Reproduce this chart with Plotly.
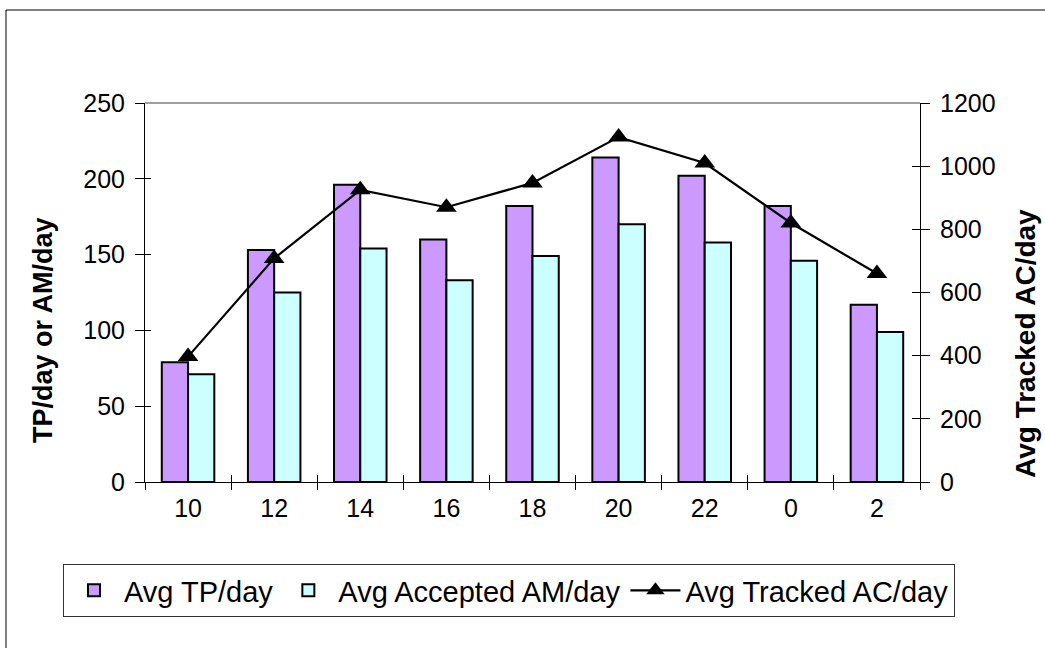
import numpy as np
import plotly.graph_objects as go

# Hour of day (categories) and daily averages
hours = ["10", "12", "14", "16", "18", "20", "22", "0", "2"]
avg_tp = [79, 153, 196, 160, 182, 214, 202, 182, 117]
avg_accepted_am = [71, 125, 154, 133, 149, 170, 158, 146, 99]
avg_tracked_ac = [397, 708, 925, 870, 947, 1092, 1010, 820, 660]

left_ticks = [0, 50, 100, 150, 200, 250]
right_ticks = [0, 200, 400, 600, 800, 1000, 1200]

W, H = 1045, 648
L, R, T, B = 145, 920, 103, 482  # plot-area edges in pixels


def px(x):
    return (x - L) / (R - L)


def py(y):
    return (B - y) / (B - T)


FONT = "Liberation Sans, Arial, sans-serif"

fig = go.Figure()
fig.add_trace(go.Bar(
    x=hours, y=avg_tp, name="Avg TP/day",
    marker=dict(color="#CC99FF", line=dict(color="black", width=2)),
))
fig.add_trace(go.Bar(
    x=hours, y=avg_accepted_am, name="Avg Accepted AM/day",
    marker=dict(color="#CCFFFF", line=dict(color="black", width=2)),
))
fig.add_trace(go.Scatter(
    x=hours, y=avg_tracked_ac, name="Avg Tracked AC/day", yaxis="y2",
    mode="lines+markers",
    line=dict(color="black", width=2.2),
    marker=dict(symbol="triangle-up", size=18, color="black"),
))

boundaries = np.arange(len(hours) + 1) - 0.5
tickfont = dict(family=FONT, size=25, color="black")

fig.update_layout(
    width=W, height=H,
    margin=dict(l=L, r=W - R, t=T, b=H - B),
    paper_bgcolor="white", plot_bgcolor="white",
    barmode="group", bargap=0.39, bargroupgap=0,
    showlegend=True,
    legend=dict(
        orientation="h", x=px(63), y=py(564), xanchor="left", yanchor="top",
        font=dict(family=FONT, size=29, color="black"),
        bordercolor="#333333", borderwidth=1, bgcolor="white",
        itemwidth=50,
    ),
    xaxis=dict(
        type="category", categoryorder="array", categoryarray=hours,
        range=[-0.5, len(hours) - 0.5],
        tickson="boundaries", ticks="outside", ticklen=7, tickwidth=1,
        tickcolor="black", showline=True, linecolor="black", linewidth=1,
        showgrid=False, zeroline=False, tickfont=tickfont,
        ticklabelstandoff=4,
    ),
    yaxis=dict(
        range=[0, 250], tickvals=left_ticks, ticks="outside", ticklen=9,
        tickcolor="black", showline=True, linecolor="black", linewidth=1,
        showgrid=False, zeroline=False, tickfont=tickfont,
        ticklabelstandoff=5,
    ),
    yaxis2=dict(
        overlaying="y", side="right", range=[0, 1200], tickvals=right_ticks,
        ticks="outside", ticklen=9, tickcolor="black", showline=True,
        linecolor="black", linewidth=1, showgrid=False, zeroline=False,
        tickfont=tickfont, ticklabelstandoff=5,
    ),
    # inner halves of the crossing tick marks
    xaxis2=dict(
        overlaying="x", anchor="y", range=[-0.5, len(hours) - 0.5],
        tickvals=boundaries, ticks="inside", ticklen=7, tickcolor="black",
        showticklabels=False, showline=False, showgrid=False, zeroline=False,
    ),
    yaxis3=dict(
        overlaying="y", anchor="x", side="left", range=[0, 250],
        tickvals=left_ticks, ticks="inside", ticklen=6, tickcolor="black",
        showticklabels=False, showline=False, showgrid=False, zeroline=False,
    ),
    yaxis4=dict(
        overlaying="y", anchor="x", side="right", range=[0, 1200],
        tickvals=right_ticks, ticks="inside", ticklen=8, tickcolor="black",
        showticklabels=False, showline=False, showgrid=False, zeroline=False,
    ),
)

# Invisible carriers so the helper axes are drawn
fig.add_trace(go.Scatter(x=[0], y=[0], xaxis="x2", yaxis="y3", mode="none",
                         showlegend=False, hoverinfo="skip"))
fig.add_trace(go.Scatter(x=[0], y=[0], xaxis="x2", yaxis="y4", mode="none",
                         showlegend=False, hoverinfo="skip"))

# Axis titles
fig.add_annotation(
    text="<b>TP/day or AM/day</b>", textangle=-90, showarrow=False,
    xref="paper", yref="paper", x=px(43), y=py(330),
    xanchor="center", yanchor="middle",
    font=dict(family=FONT, size=27, color="black"),
)
fig.add_annotation(
    text="<b>Avg Tracked AC/day</b>", textangle=-90, showarrow=False,
    xref="paper", yref="paper", x=px(1025), y=py(344),
    xanchor="center", yanchor="middle",
    font=dict(family=FONT, size=28, color="black"),
)

# Grey top edge of the plot area and the outer chart frame
fig.add_shape(type="line", xref="paper", yref="paper", x0=0, x1=1, y0=1, y1=1,
              line=dict(color="#808080", width=1.5))
fig.add_shape(type="rect", xref="paper", yref="paper",
              x0=px(6), x1=px(W + 20), y0=py(10), y1=py(H + 20),
              line=dict(color="black", width=1), fillcolor="rgba(0,0,0,0)")

fig.write_html("out.html")
